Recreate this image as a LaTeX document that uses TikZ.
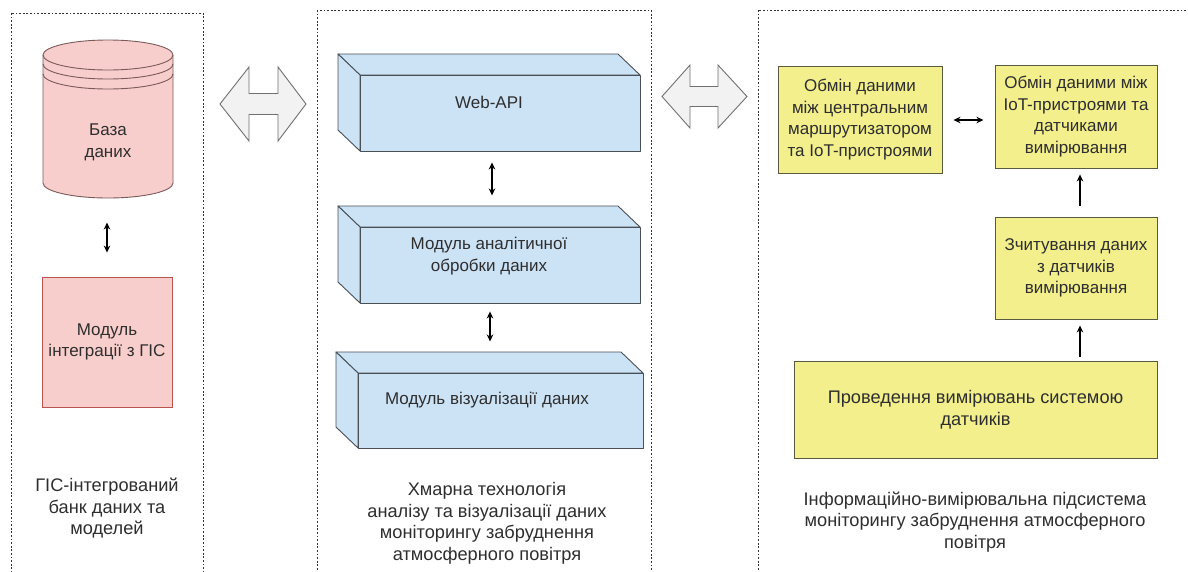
\documentclass[tikz,border=0pt]{standalone}
\usepackage{fontspec}
\setmainfont{Liberation Sans}
\usetikzlibrary{arrows.meta,calc}
\definecolor{pinkf}{HTML}{F8CECC}
\definecolor{pinkd}{HTML}{B85450}
\definecolor{cyld}{HTML}{7A5A5A}
\definecolor{bluef}{HTML}{CCE3F6}
\definecolor{blued}{HTML}{4A4F55}
\definecolor{yelf}{HTML}{F2EF8C}
\definecolor{yeld}{HTML}{5A5A40}
\definecolor{txt}{HTML}{2E2E2E}
\definecolor{grayf}{HTML}{F2F2F2}
\definecolor{grayd}{HTML}{707070}
\tikzset{
  grp/.style={draw=black!80, line width=0.8pt, dash pattern=on 1.8pt off 1.8pt},
  ybox/.style={draw=yeld, fill=yelf, line width=0.9pt, align=center, inner sep=2pt},
  pbox/.style={draw=pinkd, fill=pinkf, line width=0.9pt, align=center},
  face/.style={draw=blued, fill=bluef, line width=0.9pt, line join=round},
  lbl/.style={align=center, text=txt},
  captxt/.style={align=center, text=txt, font=\fontsize{18.2}{21.5}\selectfont},
  dbl/.style={line width=1.2pt, {Stealth[length=7pt,width=6.5pt]}-{Stealth[length=7pt,width=6.5pt]}},
  uparr/.style={line width=1.1pt, -{Stealth[length=7pt,width=6.5pt]}},
  fat/.style={draw=grayd, fill=grayf, line width=0.9pt, line join=miter}
}
\begin{document}
\begin{tikzpicture}[x=1pt,y=-1pt, font=\fontsize{17}{21.5}\selectfont, text=txt]
\useasboundingbox (0,0) rectangle (1188,571);
\fill[white] (0,0) rectangle (1188,571);
\begin{scope}
  \clip (0,0) rectangle (1188,571);
  \draw[grp] (11,13) rectangle (203,600);
  \draw[grp] (317,10) rectangle (651,600);
  \draw[grp] (758,10) rectangle (1210,600);
\end{scope}

% ---------- left column: database cylinder ----------
\fill[pinkf] (43,55) -- (43,183) arc[start angle=180,end angle=360,x radius=65pt,y radius=15pt]
  -- (173,55) arc[start angle=0,end angle=180,x radius=65pt,y radius=15pt] -- cycle;
\draw[cyld, line width=0.9pt] (108,55) ellipse[x radius=65pt,y radius=15pt];
\draw[cyld, line width=0.9pt] (43,64) arc[start angle=180,end angle=360,x radius=65pt,y radius=15pt];
\draw[cyld, line width=0.9pt] (43,74) arc[start angle=180,end angle=360,x radius=65pt,y radius=15pt];
\draw[cyld, line width=0.9pt] (43,55) -- (43,183) arc[start angle=180,end angle=360,x radius=65pt,y radius=15pt] -- (173,55);
\node[lbl] (db) at (108,142.5) {База\\даних};

\node[pbox, minimum width=130, minimum height=130] (gis) at (107,342) {Модуль\\інтеграції з ГІС};
\draw[dbl] ($(gis.north)+(0,-54)$) -- ($(gis.north)+(0,-24)$);

\node[captxt] (capL) at (107,508.5) {ГІС-інтегрований\\банк даних та\\моделей};

% ---------- fat arrows ----------
\draw[fat] (220,104) -- (249,67) -- (249,93.5) -- (278,93.5) -- (278,67) -- (306,104)
  -- (278,141) -- (278,114.5) -- (249,114.5) -- (249,141) -- cycle;
\coordinate (fatL) at (263,104);
\draw[fat] (662,96.5) -- (690,65) -- (690,86.5) -- (718,86.5) -- (718,65) -- (747,96.5)
  -- (718,128) -- (718,106.5) -- (690,106.5) -- (690,128) -- cycle;
\coordinate (fatR) at (704.5,96.5);

% ---------- middle column: 3D boxes ----------
\draw[face] (338,54) -- (618,54) -- (640,75) -- (360,75) -- cycle;
\draw[face] (338,54) -- (360,75) -- (360,151) -- (338,130) -- cycle;
\node[face, minimum width=280, minimum height=76] (web) at (500,113) {};
\node[lbl] (webt) at (489,102.5) {Web-API};

\draw[face] (338,206) -- (618,206) -- (640,227) -- (360,227) -- cycle;
\draw[face] (338,206) -- (360,227) -- (360,303) -- (338,282) -- cycle;
\node[face, minimum width=280, minimum height=76] (ana) at (500,265) {};
\node[lbl] (anat) at (489,256) {Модуль аналітичної\\обробки даних};

\draw[face] (336,352) -- (621,352) -- (643,373) -- (358,373) -- cycle;
\draw[face] (336,352) -- (358,373) -- (358,448) -- (336,427) -- cycle;
\node[face, minimum width=285, minimum height=75] (vis) at (500.5,410.5) {};
\node[lbl] (vist) at (487,400) {Модуль візуалізації даних};

\draw[dbl] ($(web.south)+(-8,11)$) -- ($(web.south)+(-8,44)$);
\draw[dbl] ($(ana.south)+(-10,8)$) -- ($(ana.south)+(-10,38)$);

\node[captxt] (capM) at (487,523.5) {Хмарна технологія\\аналізу та візуалізації даних\\моніторингу забруднення\\атмосферного повітря};

% ---------- right column ----------
\node[ybox, minimum width=164, minimum height=107] (y1) at (860,119.5)
  {Обмін даними\\між центральним\\маршрутизатором\\та IoT-пристроями};
\node[ybox, minimum width=162, minimum height=103] (y2) at (1076,116.5)
  {Обмін даними між\\IoT-пристроями та\\датчиками\\вимірювання};
\node[ybox, minimum width=162, minimum height=102] (y3) at (1076,268)
  {Зчитування даних\\з датчиків\\вимірювання};
\node[ybox, minimum width=363, minimum height=97, font=\fontsize{18.2}{22}\selectfont] (y4) at (975.5,410)
  {Проведення вимірювань системою\\датчиків};

\draw[dbl] ($(y1.east)+(11,0.5)$) -- ($(y1.east)+(41,0.5)$);
\draw[uparr] ($(y3.north)+(4,-11)$) -- ($(y2.south)+(4,6)$);
\draw[uparr] ($(y4.north -| y3.north)+(4,-4)$) -- ($(y3.south)+(4,6)$);

\node[captxt] (capR) at (975,522) {Інформаційно-вимірювальна підсистема\\моніторингу забруднення атмосферного\\повітря};
\end{tikzpicture}
\end{document}
